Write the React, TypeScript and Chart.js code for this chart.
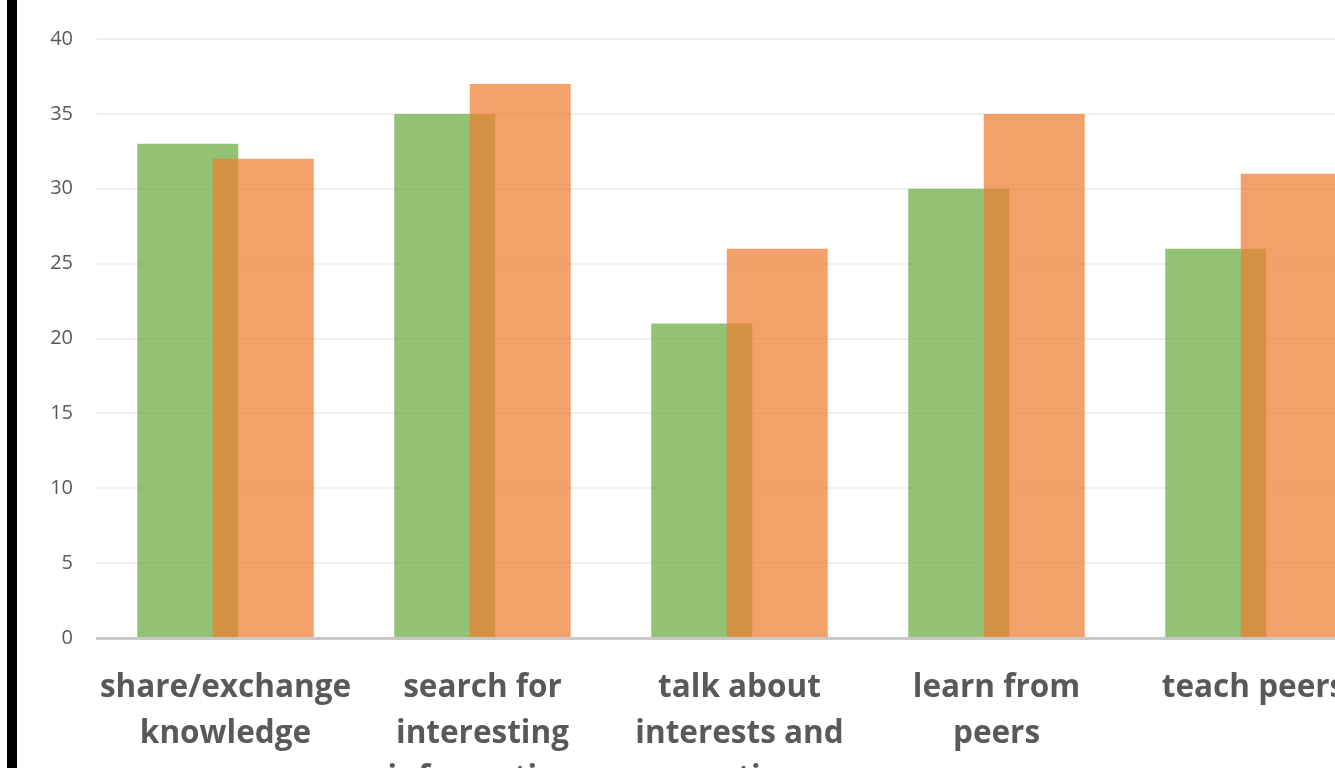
import React, { useEffect, useRef } from "react";
import { Chart, registerables } from "chart.js";

Chart.register(...registerables);

const categories: string[][] = [
  ["share/exchange", "knowledge"],
  ["search for", "interesting", "information"],
  ["talk about", "interests and", "questions"],
  ["learn from", "peers"],
  ["teach peers"],
];
const greenValues = [33, 35, 21, 30, 26];
const orangeValues = [32, 37, 26, 35, 31];
const yTicks = [0, 5, 10, 15, 20, 25, 30, 35, 40];

const CANVAS_W = 1382;
const CANVAS_H = 830;

const drawOrderPlugin = {
  id: "drawOrder",
  beforeDatasetsDraw(chart: any) {
    const area = chart.chartArea;
    const ctx = chart.ctx;
    for (let i = 0; i < chart.data.datasets.length; i++) {
      const meta = chart.getDatasetMeta(i);
      if (!meta.visible) continue;
      ctx.save();
      ctx.beginPath();
      ctx.rect(area.left, area.top - 2, area.right - area.left, area.bottom - area.top + 2);
      ctx.clip();
      meta.controller.draw();
      ctx.restore();
    }
    return false;
  },
};

export default function App() {
  const ref = useRef<HTMLCanvasElement | null>(null);

  useEffect(() => {
    if (!ref.current) return;
    const chart = new Chart(ref.current, {
      type: "bar",
      data: {
        labels: categories,
        datasets: [
          {
            label: "A",
            data: greenValues,
            backgroundColor: "rgba(112,173,71,0.75)",
            borderWidth: 0,
          },
          {
            label: "B",
            data: orangeValues,
            backgroundColor: "rgba(237,125,49,0.72)",
            borderWidth: 0,
          },
        ],
      },
      options: {
        responsive: false,
        animation: false,
        devicePixelRatio: 1,
        datasets: {
          bar: {
            categoryPercentage: 0.5875,
            barPercentage: 1.338,
          },
        },
        layout: { padding: { top: 39, left: 0, right: 0, bottom: 0 } },
        plugins: {
          legend: { display: false },
          tooltip: { enabled: false },
          title: { display: false },
        },
        scales: {
          x: {
            grid: { display: false, drawTicks: false },
            border: { display: true, color: "#C8C8C8", width: 3 },
            ticks: {
              color: "#595959",
              font: { family: "Open Sans", size: 31.5, weight: "bold", lineHeight: 1.43 },
              padding: 28,
              maxRotation: 0,
              minRotation: 0,
              autoSkip: false,
            },
            afterFit: (scale: any) => {
              scale.height = CANVAS_H - 638;
            },
          },
          y: {
            min: 0,
            max: 40,
            afterBuildTicks: (scale: any) => {
              scale.ticks = yTicks.map((v) => ({ value: v }));
            },
            grid: { color: "#EFEFEF", lineWidth: 2, drawTicks: false },
            border: { display: false },
            ticks: {
              color: "#595959",
              font: { family: "Open Sans", size: 20 },
              padding: 24,
            },
            afterFit: (scale: any) => {
              scale.width = 97;
            },
          },
        },
      },
      plugins: [drawOrderPlugin],
    });
    return () => chart.destroy();
  }, []);

  return (
    <div
      style={{
        position: "fixed",
        left: 0,
        top: 0,
        width: "100vw",
        height: "100vh",
        overflow: "hidden",
        background: "#fff",
      }}
    >
      <canvas
        ref={ref}
        width={CANVAS_W}
        height={CANVAS_H}
        style={{ position: "absolute", left: 0, top: 0, width: CANVAS_W, height: CANVAS_H }}
      />
      <div
        style={{
          position: "absolute",
          left: 7,
          top: 0,
          width: 10,
          height: "100%",
          background: "#000",
        }}
      />
    </div>
  );
}
